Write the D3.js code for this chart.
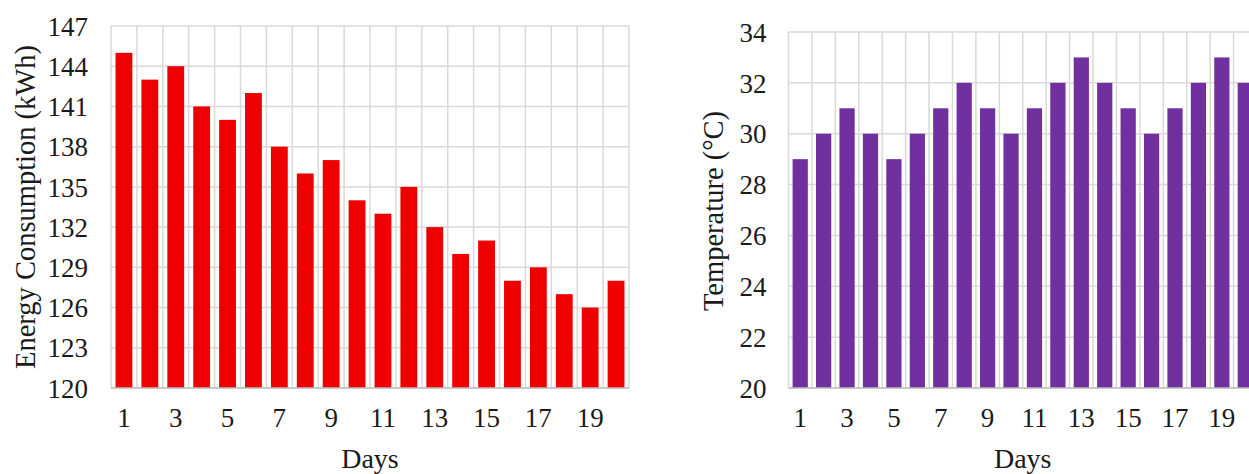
<!DOCTYPE html>
<html>
<head>
<meta charset="utf-8">
<script src="https://cdn.jsdelivr.net/npm/d3@7"></script>
<style>
  html, body { margin: 0; padding: 0; background: #fff; }
  svg { display: block; }
  text { font-family: "Liberation Serif", "Tinos", "DejaVu Serif", serif; fill: #1a1a1a; }
</style>
</head>
<body>
<svg id="chart" width="1249" height="474"></svg>
<script>
// Daily readings over 20 days
const days = d3.range(1, 21);
const energy = [145, 143, 144, 141, 140, 142, 138, 136, 137, 134, 133, 135, 132, 130, 131, 128, 129, 127, 126, 128];
const temperature = [29, 30, 31, 30, 29, 30, 31, 32, 31, 30, 31, 32, 33, 32, 31, 30, 31, 32, 33, 32];
const energyTicks = [120, 123, 126, 129, 132, 135, 138, 141, 144, 147];
const temperatureTicks = [20, 22, 24, 26, 28, 30, 32, 34];
const dayTicks = [1, 3, 5, 7, 9, 11, 13, 15, 17, 19];

const svg = d3.select("#chart");
const serif = '"Liberation Serif", "Tinos", "DejaVu Serif", serif';

function barPanel(cfg) {
  const g = svg.append("g");
  const x = d3.scaleBand().domain(days).range([cfg.left, cfg.right])
    .paddingInner(0.35).paddingOuter(0.175);
  const y = d3.scaleLinear().domain(cfg.domain).range([cfg.bottom, cfg.top]);
  const step = x.step();
  const x0 = cfg.left;

  // horizontal grid
  g.append("g").selectAll("line").data(cfg.ticks).join("line")
    .attr("x1", cfg.left).attr("x2", cfg.right)
    .attr("y1", d => y(d)).attr("y2", d => y(d))
    .attr("stroke", "#d9d9d9").attr("stroke-width", 1.5);

  // vertical grid at band boundaries
  g.append("g").selectAll("line").data(d3.range(0, days.length + 1)).join("line")
    .attr("x1", i => x0 + i * step).attr("x2", i => x0 + i * step)
    .attr("y1", cfg.top).attr("y2", cfg.bottom)
    .attr("stroke", "#d9d9d9").attr("stroke-width", 1.5);

  // bars
  g.append("g").selectAll("rect").data(cfg.values).join("rect")
    .attr("x", (d, i) => x(days[i]))
    .attr("width", x.bandwidth())
    .attr("y", d => y(d))
    .attr("height", d => y(cfg.domain[0]) - y(d))
    .attr("fill", cfg.color);

  // baseline
  g.append("line")
    .attr("x1", cfg.left).attr("x2", cfg.right)
    .attr("y1", cfg.bottom).attr("y2", cfg.bottom)
    .attr("stroke", "#bfbfbf").attr("stroke-width", 1.5);

  // y tick labels
  const yAxis = d3.axisLeft(y).tickValues(cfg.ticks).tickSize(0).tickPadding(cfg.labelGap);
  const ya = g.append("g").attr("transform", `translate(${cfg.left},0)`).call(yAxis)
    .attr("font-family", serif).attr("font-size", 27);
  ya.select(".domain").remove();
  ya.selectAll("text").attr("fill", "#1a1a1a").attr("dy", "0.34em");

  // x tick labels
  const xAxis = d3.axisBottom(x).tickValues(dayTicks).tickSize(0).tickPadding(20);
  const xa = g.append("g").attr("transform", `translate(0,${cfg.bottom})`).call(xAxis)
    .attr("font-family", serif).attr("font-size", 27);
  xa.select(".domain").remove();
  xa.selectAll("text").attr("fill", "#1a1a1a");

  // axis titles
  g.append("text")
    .attr("x", (cfg.left + cfg.right) / 2).attr("y", 468)
    .attr("text-anchor", "middle").attr("font-size", 28)
    .text("Days");
  g.append("text")
    .attr("transform", `translate(${cfg.titleX},${cfg.titleY}) rotate(-90)`)
    .attr("text-anchor", "middle").attr("font-size", 28.5)
    .text(cfg.title);
}

barPanel({
  values: energy, ticks: energyTicks, domain: [120, 147], color: "#ee0000",
  left: 111, right: 629, top: 26, bottom: 388, labelGap: 23,
  title: "Energy Consumption (kWh)", titleX: 35, titleY: 207
});

barPanel({
  values: temperature, ticks: temperatureTicks, domain: [20, 34], color: "#7030a0",
  left: 788.5, right: 1257, top: 32, bottom: 388, labelGap: 22,
  title: "Temperature (\u00B0C)", titleX: 723, titleY: 211
});
</script>
</body>
</html>
